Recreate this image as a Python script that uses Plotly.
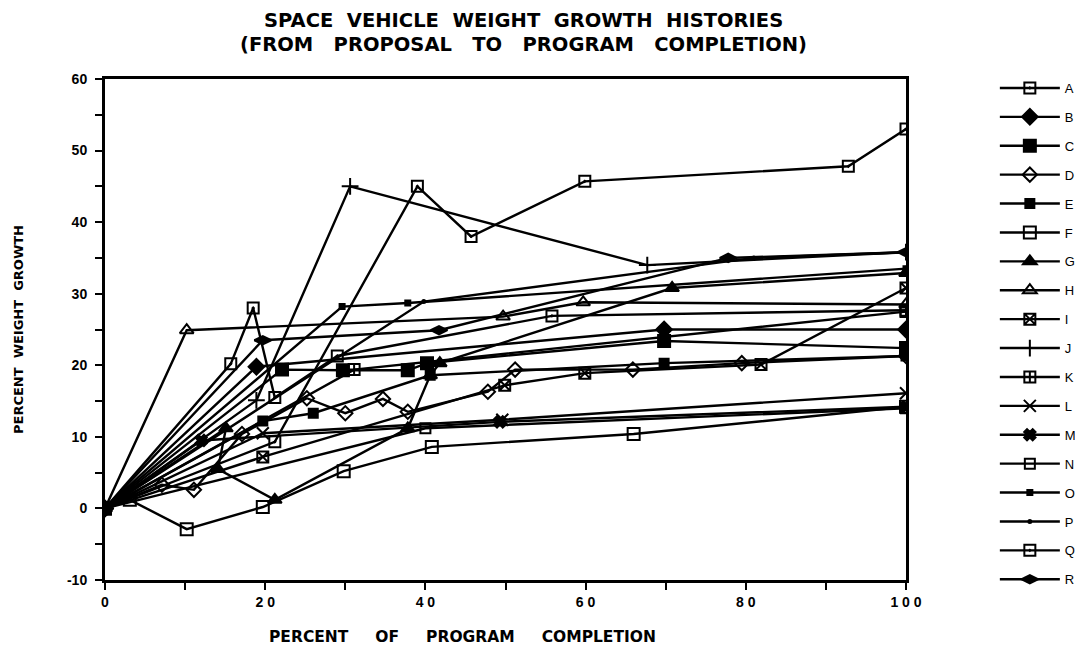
import plotly.graph_objects as go

# ---- data (percent of program completion, percent weight growth) ----
A_x = [0, 21.2, 39, 45.7, 59.9, 92.8, 100]
A_y = [0, 9.3, 45, 38, 45.7, 47.8, 53]
B_x = [0, 18.9, 69.8, 100]
B_y = [0, 19.8, 25, 25]
C_x = [0, 22.1, 29.7, 37.8, 40.2, 69.8, 100]
C_y = [0, 19.4, 19.3, 19.3, 20.3, 23.4, 22.4]
D_x = [0, 7.1, 11.1, 17.1, 25.2, 30, 34.7, 37.8, 47.8, 51.2, 65.9, 79.5, 100]
D_y = [0, 3.3, 2.6, 10.4, 15.4, 13.3, 15.3, 13.5, 16.3, 19.4, 19.4, 20.3, 21.3]
E_x = [0, 19.7, 26, 40.6, 69.8, 100]
E_y = [0, 12.2, 13.3, 18.6, 20.3, 21.3]
F_x = [0, 3.1, 10.2, 19.7, 29.8, 40.8, 66, 100]
F_y = [0, 1.2, -2.9, 0.2, 5.2, 8.6, 10.4, 14.2]
G_x = [0, 15.1, 14.1, 21.2, 37.8, 40.6, 41.8, 70.8, 100]
G_y = [0, 11.2, 5.5, 1.2, 11.2, 18.6, 20.3, 30.8, 32.9]
H_x = [0, 10.2, 49.7, 59.7, 100]
H_y = [0, 24.9, 26.8, 28.8, 28.5]
I_x = [0, 19.7, 49.9, 59.9, 81.9, 100]
I_y = [0, 7.2, 17.2, 18.9, 20.1, 30.8]
J_x = [0, 18.9, 30.6, 67.7, 100]
J_y = [0, 15.1, 45, 34, 35.8]
K_x = [0, 31.1, 100]
K_y = [0, 19.4, 27.5]
L_x = [0, 19.7, 49.6, 100]
L_y = [0, 10.5, 12.4, 16.1]
M_x = [0, 12, 49.3, 100]
M_y = [0, 9.5, 12.1, 14.2]
N_x = [0, 40, 100]
N_y = [0, 11.2, 14.0]
O_x = [0, 29.6, 37.8, 100]
O_y = [0, 28.2, 28.7, 33.5]
P_x = [0, 39.8, 81, 100]
P_y = [0, 28.9, 35, 35.8]
Q_x = [0, 15.7, 18.5, 21.2, 29, 55.8, 100]
Q_y = [0, 20.2, 28, 15.5, 21.3, 26.9, 27.7]
R_x = [0, 19.7, 41.7, 77.8, 100]
R_y = [0, 23.5, 24.9, 35, 35.8]

x_tick_vals = [0, 20, 40, 60, 80, 100]
x_tick_text = ["0", "2 0", "4 0", "6 0", "8 0", "1 0 0"]
y_tick_vals = [-10, 0, 10, 20, 30, 40, 50, 60]
y_tick_text = ["-10", "0", "10", "20", "30", "40", "50", "60"]

series = [
    ("A", A_x, A_y, "square-open-dot", 11),
    ("B", B_x, B_y, "diamond", 12),
    ("C", C_x, C_y, "square", 12),
    ("D", D_x, D_y, "diamond-open", 11),
    ("E", E_x, E_y, "square", 9),
    ("F", F_x, F_y, "square-open", 12),
    ("G", G_x, G_y, "triangle-up", 12),
    ("H", H_x, H_y, "triangle-up-open", 12),
    ("I", I_x, I_y, "square-x-open", 11),
    ("J", J_x, J_y, "cross-thin-open", 12),
    ("K", K_x, K_y, "square-cross-open", 11),
    ("L", L_x, L_y, "x-thin-open", 12),
    ("M", M_x, M_y, "x", 10),
    ("N", N_x, N_y, "square-open", 10),
    ("O", O_x, O_y, "square", 5),
    ("P", P_x, P_y, "circle", 3),
    ("Q", Q_x, Q_y, "square-open-dot", 11),
    ("R", R_x, R_y, "diamond-wide", 12),
]

FONT = "Liberation Sans, Arial, Helvetica, sans-serif"
WIDE = "DejaVu Sans, Verdana, sans-serif"
NB = "\u00a0"


def spaced(words, n):
    return (NB * n).join(words)


fig = go.Figure()
for name, xs, ys, sym, sz in series:
    fig.add_trace(go.Scatter(
        x=xs, y=ys, name=name, legendgroup=name,
        mode="lines+markers",
        line=dict(color="black", width=2.4),
        marker=dict(symbol=sym, size=sz, color="black",
                    line=dict(color="black", width=2)),
    ))

title_line1 = "<b>" + spaced(["SPACE", "VEHICLE", "WEIGHT", "GROWTH", "HISTORIES"], 2) + "</b>"
title_line2 = "<b>" + spaced(["(FROM", "PROPOSAL", "TO", "PROGRAM", "COMPLETION)"], 3) + "</b>"
xtitle = "<b>" + spaced(["PERCENT", "OF", "PROGRAM", "COMPLETION"], 5) + "</b>"
ytitle = "<b>" + spaced(["PERCENT", "WEIGHT", "GROWTH"], 2) + "</b>"

fig.update_layout(
    width=1075, height=643,
    paper_bgcolor="white", plot_bgcolor="white",
    margin=dict(l=97, r=177, t=71, b=71),
    font=dict(family=FONT, color="black", size=13),
    showlegend=True,
    legend=dict(
        xref="container", x=0.918, y=1.012, xanchor="left", yanchor="top",
        tracegroupgap=9, itemwidth=60,
        font=dict(size=13, family=FONT, color="black"),
        bgcolor="rgba(0,0,0,0)", maxheight=620,
    ),
    xaxis=dict(
        range=[0, 100], tickvals=x_tick_vals, ticktext=x_tick_text,
        showgrid=False, zeroline=False, showline=True, linecolor="black",
        linewidth=3, mirror=True, ticks="outside", ticklen=7, tickwidth=2,
        tickcolor="black",
        minor=dict(dtick=10, tick0=0, ticks="outside", ticklen=7, tickwidth=2, tickcolor="black"),
        tickfont=dict(size=14, family=FONT, weight="bold"),
    ),
    yaxis=dict(
        range=[-10, 60], tickvals=y_tick_vals, ticktext=y_tick_text,
        showgrid=False, zeroline=False, showline=True, linecolor="black",
        linewidth=3, mirror=True, ticks="outside", ticklen=7, tickwidth=2,
        tickcolor="black", ticklabelstandoff=5,
        minor=dict(dtick=5, tick0=0, ticks="outside", ticklen=7, tickwidth=2, tickcolor="black"),
        tickfont=dict(size=14, family=FONT, weight="bold"),
    ),
    annotations=[
        dict(text=title_line1, xref="paper", yref="paper", x=0.523, y=1.1417,
             xanchor="center", yanchor="top", showarrow=False, borderpad=0,
             font=dict(size=19.5, family=WIDE, color="black")),
        dict(text=title_line2, xref="paper", yref="paper", x=0.523, y=1.068,
             xanchor="center", yanchor="middle", showarrow=False, borderpad=0,
             font=dict(size=19.5, family=WIDE, color="black")),
        dict(text=xtitle, xref="paper", yref="paper", x=0.446, y=-0.114,
             xanchor="center", yanchor="middle", showarrow=False,
             font=dict(size=15.5, family=WIDE, color="black")),
        dict(text=ytitle, xref="paper", yref="paper", x=-0.1086, y=0.499,
             xanchor="center", yanchor="middle", showarrow=False, textangle=-90,
             font=dict(size=13, family=WIDE, color="black")),
    ],
)

fig.write_html("out.html")
